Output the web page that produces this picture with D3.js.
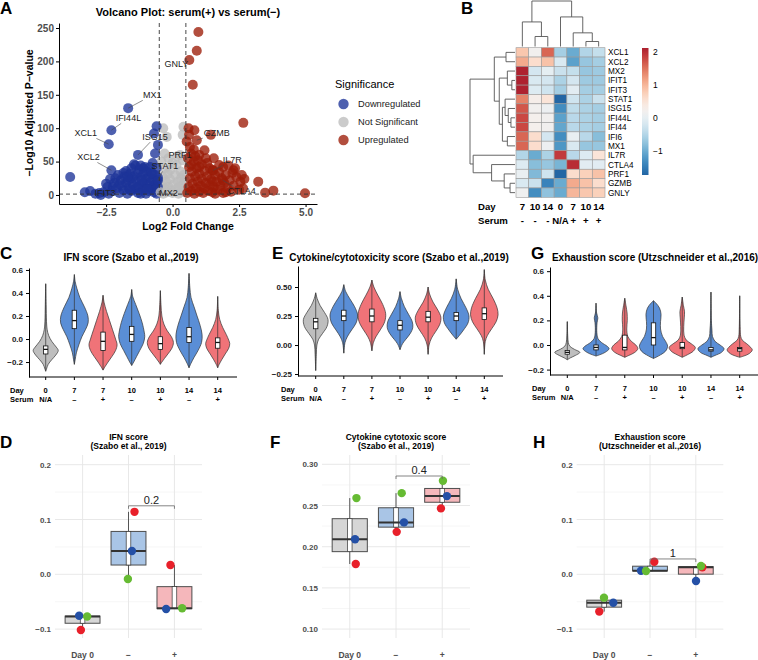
<!DOCTYPE html>
<html>
<head>
<meta charset="utf-8">
<script src="https://cdn.jsdelivr.net/npm/d3@7"></script>
<style>
  body { margin: 0; background: #fff; }
  svg { font-family: "Liberation Sans", Arial, Helvetica, sans-serif; }
</style>
</head>
<body>
<svg width="758" height="660"></svg>
<script>
// ---------- A: volcano data (log2FC, -log10 padj) ----------
const downGenes = [[-3.85,27],[-2.75,3],[-2.7,0],[-2.25,12],[-0.6,103],[-0.7,92],[-0.55,75],[-0.66,62],[-1.4,44],[-1.1,40],
  [-1.45,46],[-1.55,40],[-2.05,30],[-1.25,38],[-1.05,42],[-0.95,35],[-2.6,4],[-2.45,12],[-2.3,6],[-2.2,18],[-2.1,10],
  [-2.0,3],[-1.95,22],[-1.9,14],[-1.85,7],[-1.8,28],[-1.75,18],[-1.7,2],[-1.65,11],[-1.6,32],[-1.6,24],[-1.55,6],
  [-1.5,16],[-1.45,28],[-1.4,9],[-1.35,20],[-1.3,33],[-1.3,3],[-1.25,14],[-1.2,26],[-1.15,7],[-1.1,18],[-1.1,31],
  [-1.05,11],[-1.0,24],[-1.0,2],[-0.95,15],[-0.9,28],[-0.9,6],[-0.85,19],[-0.8,10],[-0.8,34],[-0.75,24],[-0.7,4],
  [-0.7,15],[-0.65,30],[-0.65,9],[-0.6,20],[-0.6,2],[-0.55,12],[-0.55,26],[-1.75,36],[-2.35,24],[-2.5,17],[-1.66,22],
  [-1.2,44],[-0.6,40],[-0.75,48],[-3.3,4],[-2.9,2],[-2.0,16],[-1.85,33],[-1.5,26],[-1.35,12],[-1.15,22],[-0.85,42],
  [-2.15,25],[-1.6,8],[-1.2,2],[-0.95,9],[-0.75,32],[-1.7,27],[-2.4,2]];
const nsGenes = [[-0.45,5],[-0.4,15],[-0.38,28],[-0.35,2],[-0.3,10],[-0.28,40],[-0.25,20],[-0.2,4],[-0.18,32],[-0.15,12],
  [-0.1,24],[-0.05,7],[0.0,3],[0.05,16],[0.1,30],[0.12,8],[0.15,45],[0.2,20],[0.22,2],[0.25,12],[0.3,35],[0.32,25],
  [0.35,6],[0.38,52],[0.4,15],[0.42,30],[0.45,4],[0.28,60],[-0.35,100],[-0.22,87],[0.41,102],[0.38,90],[-0.42,50],
  [-0.08,38],[0.46,22],[0.18,58],[-0.3,62],[0.0,48],[-0.15,55]];
const upGenes = [[0.97,244],[0.91,216],[0.76,165],[2.66,108],[0.82,97],[1.44,90],[1.2,67],[0.53,80],[2.29,37],[2.6,30],
  [3.22,20],[3.48,3.5],[3.79,6.5],[4.98,2.5],[1.0,60],[1.9,42],[2.1,44],[1.55,55],[0.8,68],[0.6,100],[0.62,90],
  [0.55,3],[0.6,12],[0.65,25],[0.7,6],[0.72,35],[0.75,17],[0.8,50],[0.82,2],[0.85,28],[0.88,10],[0.9,40],[0.95,20],
  [1.0,5],[1.0,32],[1.05,14],[1.1,46],[1.1,24],[1.15,3],[1.2,36],[1.2,10],[1.25,18],[1.3,28],[1.35,6],[1.4,40],
  [1.4,15],[1.45,24],[1.5,37],[1.5,4],[1.55,12],[1.6,30],[1.65,20],[1.7,8],[1.75,34],[1.8,14],[1.85,25],[1.9,3],
  [1.95,18],[2.0,30],[2.05,10],[2.15,22],[2.25,33],[2.3,14],[2.4,27],[2.5,8],[0.58,55],[0.7,62],[0.95,52],[1.3,48],
  [0.65,72],[1.75,45],[2.35,40],[2.55,20],[2.7,24],[2.2,5],[2.65,10],[0.7,45],[1.0,42],[1.6,2],[1.25,55],[2.0,4],
  [0.85,58],[1.5,20]];
const volcanoLabels = [['GNLY',0.63,202,'up'],['MX1',-1.67,130,'down'],['IFI44L',-2.3,97,'down'],['XCL1',-2.4,76,'down'],
  ['ISG15',-1.3,60,'down'],['XCL2',-2.3,37,'down'],['STAT1',-0.55,22,'down'],['PRF1',0.62,42,'up'],['GZMB',0.91,82,'up'],
  ['IL7R',1.53,37,'up'],['CTLA4',1.89,22,'up'],['IFIT3',-3.1,6,'down'],['MX2',-0.45,4,'ns']];
const volcanoXTicks = [-2.5, 0, 2.5, 5];
const volcanoYTicks = [0, 50, 100, 150, 200, 250];
const sigLevels = ['Downregulated', 'Not Significant', 'Upregulated'];

// ---------- B: heatmap data ----------
const hmGenes = ['XCL1','XCL2','MX2','IFIT1','IFIT3','STAT1','ISG15','IFI44L','IFI44','IFI6','MX1','IL7R','CTLA4','PRF1','GZMB','GNLY'];
const hmDays = ['7','10','14','0','7','10','14'];
const hmSerum = ['-','-','-','N/A','+','+','+'];
const hmValues = [
  [0.85, 0.2, 1.6, -0.6, -1.0, -0.5, -0.35],
  [1.1, 0.6, 0.9, -0.15, -1.1, -0.7, -0.6],
  [2.1, -0.2, 0.0, -0.3, -0.35, -0.7, -0.65],
  [2.1, -0.15, -0.2, -0.55, -0.2, -0.65, -0.65],
  [2.1, -0.1, -0.25, -0.6, -0.05, -0.6, -0.6],
  [1.4, 0.3, 0.5, -1.7, -0.25, -0.55, -0.3],
  [1.7, 0.2, 0.1, -1.3, -0.4, -0.55, -0.6],
  [1.8, 0.25, 0.2, -1.1, -0.45, -0.55, -0.6],
  [1.8, 0.25, 0.2, -1.05, -0.45, -0.55, -0.6],
  [1.6, 0.6, -0.2, -1.3, 0.05, -0.45, -0.8],
  [1.6, 0.6, 0.1, -1.2, -0.15, -0.7, -0.7],
  [-0.5, -1.0, -0.55, 1.9, -0.45, -0.1, 0.5],
  [-0.1, -0.8, -0.7, -0.9, 2.0, -0.05, -0.05],
  [0.05, -0.85, -0.25, -1.7, 0.6, 0.75, 0.9],
  [-0.15, -0.3, -1.4, -1.0, 1.1, 0.9, 0.6],
  [0.15, -1.3, -0.75, -1.0, 1.0, 0.85, 0.75]];
const hmRange = [-1.71, 2.12];
const colorbarTicks = [-1, 0, 1, 2];
// merge heights (0 = leaf, 1 = root); leaves are column / row indices
const colTree = {h: 1, c: [{h: 0.54, c: [0, {h: 0.22, c: [1, 2]}]},
  {h: 0.65, c: [3, {h: 0.3, c: [4, {h: 0.11, c: [5, 6]}]}]}]};
const rowTree = {h: 1, c: [
  {h: 0.46, c: [{h: 0.2, c: [0, 1]},
    {h: 0.35, c: [{h: 0.17, c: [2, {h: 0.07, c: [3, 4]}]},
      {h: 0.28, c: [{h: 0.22, c: [5, {h: 0.15, c: [6, {h: 0.09, c: [7, 8]}]}]}, {h: 0.17, c: [9, 10]}]}]}]},
  {h: 0.93, c: [11, {h: 0.52, c: [12, {h: 0.24, c: [13, {h: 0.11, c: [14, 15]}]}]}]}]};

// ---------- C/E/G: violin data, profile = [score, density] ----------
const vDays = ['0','7','7','10','10','14','14'];
const vSerum = ['N/A','–','+','–','+','–','+'];
const vGroup = ['ctrl','minus','plus','minus','plus','minus','plus'];
const ifnViolins = [
  [[0.48,0],[0.3,0.4],[0.15,0.8],[0.08,1.5],[0.03,3],[-0.02,6],[-0.07,10.5],[-0.1,12.5],[-0.14,10],[-0.18,6],[-0.22,2.5],[-0.26,0.8],[-0.28,0]],
  [[0.56,0],[0.5,0.8],[0.44,2.5],[0.36,5.5],[0.28,10],[0.2,13.5],[0.14,13.7],[0.08,11],[0.02,7.5],[-0.05,4.5],[-0.12,2],[-0.18,0.8],[-0.22,0]],
  [[0.38,0],[0.32,1],[0.24,3.5],[0.16,6.5],[0.08,9.5],[0.0,12.5],[-0.05,14],[-0.1,12.5],[-0.15,9],[-0.2,5],[-0.24,2],[-0.27,0]],
  [[0.43,0],[0.37,1],[0.3,4],[0.22,7.5],[0.14,10.5],[0.06,12.5],[0.02,13],[-0.04,11.5],[-0.1,8],[-0.15,5],[-0.2,2],[-0.23,0]],
  [[0.42,0],[0.3,0.6],[0.2,1.5],[0.13,3.5],[0.07,7],[0.02,11],[-0.03,13],[-0.08,11.5],[-0.13,7.5],[-0.17,4],[-0.2,1.5],[-0.22,0]],
  [[0.57,0],[0.45,0.8],[0.36,2],[0.28,5],[0.2,8],[0.12,11],[0.04,13],[-0.03,12.5],[-0.1,9],[-0.16,5],[-0.21,2],[-0.25,0]],
  [[0.37,0],[0.25,0.6],[0.17,2],[0.1,5],[0.04,8.5],[-0.01,11],[-0.04,12],[-0.08,11],[-0.13,7.5],[-0.18,4],[-0.22,1.5],[-0.25,0]]];
const ifnBoxes = [[-0.13,-0.09,-0.06],[0.09,0.16,0.25],[-0.1,-0.02,0.06],[-0.02,0.04,0.11],[-0.09,-0.04,0.02],[-0.03,0.02,0.1],[-0.08,-0.03,0.01]];
const cytoViolins = [
  [[0.45,0],[0.4,1.5],[0.34,4.5],[0.28,9],[0.22,12.5],[0.16,11.5],[0.1,7],[0.05,3],[0.0,1.2],[-0.08,0.6],[-0.22,0]],
  [[0.52,0],[0.46,2],[0.4,6],[0.33,11],[0.26,14],[0.19,12.5],[0.13,8],[0.07,3.5],[0.02,1.2],[-0.07,0]],
  [[0.56,0],[0.5,2],[0.43,6],[0.35,11],[0.27,14],[0.2,13],[0.13,8.5],[0.07,4],[0.02,1.5],[-0.05,0]],
  [[0.46,0],[0.4,1.5],[0.33,4.5],[0.26,9],[0.2,12.5],[0.15,13],[0.1,10.5],[0.05,6],[0.01,2.5],[-0.04,0]],
  [[0.5,0],[0.44,1.5],[0.37,5],[0.3,10],[0.24,13],[0.18,12],[0.12,8],[0.06,3.5],[0.0,1],[-0.08,0]],
  [[0.57,0],[0.48,1.5],[0.4,5],[0.32,10],[0.25,13],[0.19,12],[0.13,7.5],[0.08,3],[0.05,0]],
  [[0.65,0],[0.56,1],[0.48,4],[0.4,9],[0.32,13],[0.26,14],[0.2,12],[0.14,7.5],[0.08,3],[0.03,1],[-0.08,0]]];
const cytoBoxes = [[0.14,0.2,0.23],[0.21,0.25,0.3],[0.2,0.25,0.31],[0.13,0.17,0.21],[0.2,0.24,0.29],[0.21,0.25,0.28],[0.22,0.27,0.32]];
const exhViolins = [
  [[0.19,0],[0.08,0.4],[0.02,1],[-0.01,2.5],[-0.035,7],[-0.06,12.5],[-0.085,8],[-0.105,3],[-0.12,0]],
  [[0.34,0],[0.26,0.6],[0.22,1.8],[0.18,1],[0.1,0.8],[0.05,2],[0.02,5.5],[-0.01,11],[-0.03,13],[-0.06,9],[-0.08,3.5],[-0.09,0]],
  [[0.38,0],[0.32,1.2],[0.26,2.3],[0.2,2.5],[0.13,2],[0.07,3],[0.03,6.5],[0.0,11],[-0.03,13],[-0.06,10],[-0.085,4],[-0.1,0]],
  [[0.36,0],[0.34,2.5],[0.3,6],[0.25,7.5],[0.19,7],[0.13,7],[0.07,9],[0.03,12],[-0.01,14],[-0.05,12],[-0.08,7],[-0.1,2.5],[-0.11,0]],
  [[0.39,0],[0.32,1.2],[0.27,2.3],[0.22,2],[0.15,1.5],[0.08,1.8],[0.04,4],[0.01,9],[-0.02,13],[-0.05,11],[-0.08,5],[-0.1,0]],
  [[0.43,0],[0.2,0.4],[0.12,1],[0.07,1.5],[0.03,4],[0.0,9],[-0.03,13],[-0.06,10.5],[-0.085,4],[-0.1,0]],
  [[0.4,0],[0.15,0.4],[0.07,1],[0.04,2.5],[0.01,7],[-0.02,11],[-0.04,12.5],[-0.07,9.5],[-0.09,4],[-0.1,0]]];
const exhBoxes = [[-0.075,-0.06,-0.045],[-0.04,-0.02,0.0],[-0.04,-0.02,0.08],[0.0,0.06,0.18],[-0.03,-0.02,0.02],[-0.05,-0.04,-0.02],[-0.05,-0.03,-0.02]];

// ---------- D/F/H: per-donor mean scores [red, green, blue] ----------
const boxCats = ['Day 0', '−', '+'];
const donorOrder = ['red', 'green', 'blue'];
const ifnDonor = [[-0.1016, -0.077, -0.0755], [0.114, -0.0086, 0.0425], [0.017, -0.062, -0.0633]];
const cytoDonor = [[0.179, 0.259, 0.209], [0.218, 0.265, 0.2295], [0.2465, 0.28, 0.2614]];
const exhDonor = [[-0.068, -0.0426, -0.0518], [0.023, 0.006, 0.0066], [0.0128, 0.0151, -0.0122]];
const ifnJitter = [[-1.7, 4.6, -3.4], [6, -0.6, 3.4], [-4, 7.7, -8.3]];
const cytoJitter = [[6, 6.7, 5.3], [0.7, 5.7, 8], [-1.3, 0.7, 4.7]];
const exhJitter = [[-4.9, -0.2, 9.1], [4.3, -4, -9], [6.5, 5.2, 0.2]];
const pLabels = ['0.2', '0.4', '1'];
const bracketLevels = [0.125, 0.2858, 0.028];

// ---------- drawing ----------
const svg = d3.select('svg');
const sigColor = {down: '#1c3399', ns: '#bdbdbd', up: '#9c1c08'};
const groupColor = {ctrl: '#bebebe', minus: '#5a8ed6', plus: '#f07378'};
const donorColor = {red: '#e8202a', green: '#66bb33', blue: '#2450a6'};
const catFill = ['#d6d6d6', '#a9c5e6', '#f5b7bb'];

function letter(t, x, y) {
  svg.append('text').attr('x', x).attr('y', y).attr('font-size', 17)
    .attr('font-weight', 'bold').text(t);
}

function styleAxis(a, size, col) {
  a.attr('font-family', null).attr('font-size', null);
  a.selectAll('text').attr('font-size', size).attr('font-weight', 'bold').attr('fill', col);
  a.selectAll('line,path').attr('stroke', '#000');
}

function drawVolcano() {
  const g = svg.append('g');
  const x = d3.scaleLinear().domain([-4.27, 5.43]).range([59, 317]);
  const y = d3.scaleLinear().domain([-13.5, 257.5]).range([204, 23]);

  g.append('text').attr('x', 188).attr('y', 16).attr('text-anchor', 'middle')
    .attr('font-size', 11).attr('font-weight', 'bold').text('Volcano Plot: serum(+) vs serum(−)');

  [[nsGenes, 'ns'], [downGenes, 'down'], [upGenes, 'up']].forEach(([data, k]) => {
    g.append('g').selectAll('circle').data(data).join('circle')
      .attr('cx', d => x(d[0])).attr('cy', d => y(d[1])).attr('r', 5)
      .attr('fill', sigColor[k]).attr('fill-opacity', 0.78);
  });
  g.append('g').selectAll('circle').data(volcanoLabels).join('circle')
    .attr('cx', d => x(d[1])).attr('cy', d => y(d[2])).attr('r', 5)
    .attr('fill', d => sigColor[d[3]]).attr('fill-opacity', 0.78);

  const dash = {stroke: '#333', 'stroke-width': 0.9, 'stroke-dasharray': '4,3'};
  [-0.5, 0.5].forEach(v => {
    const l = g.append('line').attr('x1', x(v)).attr('x2', x(v)).attr('y1', 23).attr('y2', 204);
    Object.entries(dash).forEach(([k, val]) => l.attr(k, val));
  });
  const h = g.append('line').attr('x1', 59).attr('x2', 317).attr('y1', y(1.3)).attr('y2', y(1.3));
  Object.entries(dash).forEach(([k, val]) => h.attr(k, val));

  // gene labels (repel-style nudges)
  const nudge = {GNLY: [-13, 4], MX1: [24, -13], IFI44L: [17, -12], XCL1: [-23, -11], ISG15: [17, -18],
    XCL2: [-23, -13], STAT1: [7, -14], PRF1: [-9, -12], GZMB: [20, -7], IL7R: [19, -10],
    CTLA4: [19, 11], IFIT3: [15, 2], MX2: [8, 0]};
  volcanoLabels.forEach(([gene, lfc, p]) => {
    const px = x(lfc), py = y(p);
    const [dx, dy] = nudge[gene];
    const t = g.append('text').attr('x', px + dx).attr('y', py + dy + 3.2)
      .attr('text-anchor', 'middle').attr('font-size', 9).attr('fill', '#222').text(gene);
    const b = t.node().getBBox();
    const cx = b.x + b.width / 2, cy = b.y + b.height / 2;
    const vx = px - cx, vy = py - cy;
    const s = Math.min(Math.abs((b.width / 2 + 1) / vx), Math.abs((b.height / 2) / vy));
    if (s < 1) {
      const len = Math.hypot(vx, vy) * (1 - s);
      if (len > 5) {
        g.append('line').attr('x1', cx + vx * s).attr('y1', cy + vy * s)
          .attr('x2', px).attr('y2', py).attr('stroke', '#444').attr('stroke-width', 0.6);
      }
    }
  });

  const ya = g.append('g').attr('transform', 'translate(59,0)')
    .call(d3.axisLeft(y).tickValues(volcanoYTicks).tickSize(3).tickSizeOuter(0).tickPadding(2));
  const xa = g.append('g').attr('transform', 'translate(0,204)')
    .call(d3.axisBottom(x).tickValues(volcanoXTicks).tickFormat(d3.format('.1f'))
      .tickSize(3).tickSizeOuter(0).tickPadding(2));
  styleAxis(ya, 10, '#4d4d4d');
  styleAxis(xa, 10, '#4d4d4d');

  g.append('text').attr('x', 188).attr('y', 230).attr('text-anchor', 'middle')
    .attr('font-size', 10.5).attr('font-weight', 'bold').text('Log2 Fold Change');
  g.append('text').attr('transform', 'translate(33,113) rotate(-90)').attr('text-anchor', 'middle')
    .attr('font-size', 10.5).attr('font-weight', 'bold').text('−Log10 Adjusted P−value');

  const lg = svg.append('g');
  lg.append('text').attr('x', 335).attr('y', 88).attr('font-size', 11).text('Significance');
  const keys = ['down', 'ns', 'up'];
  sigLevels.forEach((s, i) => {
    lg.append('circle').attr('cx', 343.5).attr('cy', 104 + 18 * i).attr('r', 5.2)
      .attr('fill', sigColor[keys[i]]).attr('fill-opacity', 0.78);
    lg.append('text').attr('x', 358).attr('y', 107.3 + 18 * i).attr('font-size', 9.3)
      .attr('fill', '#222').text(s);
  });
}

function dendro(node, leafPos, draw) {
  if (typeof node === 'number') return {p: leafPos(node), h: 0};
  const kids = node.c.map(k => dendro(k, leafPos, draw));
  draw(kids, node.h);
  return {p: (kids[0].p + kids[1].p) / 2, h: node.h};
}

function drawHeatmap() {
  const g = svg.append('g');
  const cx = d3.scaleBand().domain(d3.range(hmDays.length)).range([516, 605]);
  const ry = d3.scaleBand().domain(d3.range(hmGenes.length)).range([47.7, 197.3]);
  const tt = d3.scaleLinear().domain(hmRange).range([0.9, 0.1]);
  const color = v => d3.interpolateRdBu(tt(v));

  hmValues.forEach((row, i) => {
    g.append('g').selectAll('rect').data(row).join('rect')
      .attr('x', (d, j) => cx(j)).attr('y', ry(i))
      .attr('width', cx.bandwidth()).attr('height', ry.bandwidth())
      .attr('fill', d => color(d)).attr('stroke', '#9a9a9a').attr('stroke-width', 0.6);
  });
  g.append('g').selectAll('text').data(hmGenes).join('text')
    .attr('x', 608).attr('y', (d, i) => ry(i) + ry.bandwidth() / 2 + 3)
    .attr('font-size', 8.2).text(d => d);

  // annotation rows
  [['Day', hmDays, 210.2], ['Serum', hmSerum, 223.5]].forEach(([name, vals, yy]) => {
    g.append('text').attr('x', 478).attr('y', yy).attr('font-size', 9.6).attr('font-weight', 'bold').text(name);
    g.append('g').selectAll('text').data(vals).join('text')
      .attr('x', (d, j) => cx(j) + cx.bandwidth() / 2).attr('y', yy).attr('text-anchor', 'middle')
      .attr('font-size', 9.6).attr('font-weight', 'bold').text(d => d);
  });

  // dendrograms
  const line = {stroke: '#555', 'stroke-width': 0.9, fill: 'none'};
  const ch = h => 46.5 - h * 45.5;
  dendro(colTree, j => cx(j) + cx.bandwidth() / 2, (kids, h) => {
    const p = g.append('path').attr('d',
      `M${kids[0].p},${ch(kids[0].h)}V${ch(h)}H${kids[1].p}V${ch(kids[1].h)}`);
    Object.entries(line).forEach(([k, v]) => p.attr(k, v));
  });
  const rh = h => 515 - h * 45;
  dendro(rowTree, i => ry(i) + ry.bandwidth() / 2, (kids, h) => {
    const p = g.append('path').attr('d',
      `M${rh(kids[0].h)},${kids[0].p}H${rh(h)}V${kids[1].p}H${rh(kids[1].h)}`);
    Object.entries(line).forEach(([k, v]) => p.attr(k, v));
  });

  // colour bar
  const cb = d3.scaleLinear().domain(hmRange).range([175, 48]);
  const grad = svg.append('defs').append('linearGradient').attr('id', 'cbar')
    .attr('x1', 0).attr('y1', 1).attr('x2', 0).attr('y2', 0);
  d3.range(0, 1.0001, 0.05).forEach(o => {
    grad.append('stop').attr('offset', o)
      .attr('stop-color', color(hmRange[0] + o * (hmRange[1] - hmRange[0])));
  });
  g.append('rect').attr('x', 642).attr('y', 48).attr('width', 6.5).attr('height', 127).attr('fill', 'url(#cbar)');
  g.append('g').selectAll('text').data(colorbarTicks).join('text')
    .attr('x', 653).attr('y', d => cb(d) + 3).attr('font-size', 8.5)
    .text(d => d3.format('d')(d));
}

function drawViolinPanel(cfg) {
  const g = svg.append('g');
  const y = d3.scaleLinear().domain(cfg.yDomain).range([cfg.bottom, cfg.top]);
  const x = d3.scalePoint().domain(d3.range(vDays.length)).range(cfg.centers);
  const w = d3.scaleLinear().domain([0, 14]).range([0, 0.49 * x.step()]);
  const area = d3.area().curve(d3.curveCatmullRom).y(d => y(d[0]));

  cfg.profiles.forEach((prof, i) => {
    const pts = prof.slice().sort((a, b) => a[0] - b[0]);
    const c = x(i);
    g.append('path').datum(pts)
      .attr('d', area.x0(d => c - w(d[1])).x1(d => c + w(d[1])))
      .attr('fill', groupColor[vGroup[i]]).attr('stroke', '#333').attr('stroke-width', 0.7);
    g.append('line').attr('x1', c).attr('x2', c)
      .attr('y1', y(pts[0][0])).attr('y2', y(pts[pts.length - 1][0]))
      .attr('stroke', '#333').attr('stroke-width', 0.7);
    const [q1, med, q3] = cfg.boxes[i];
    g.append('rect').attr('x', c - 2.2).attr('width', 4.4).attr('y', y(q3)).attr('height', y(q1) - y(q3))
      .attr('fill', '#fff').attr('stroke', '#111').attr('stroke-width', 0.8);
    g.append('line').attr('x1', c - 2.2).attr('x2', c + 2.2).attr('y1', y(med)).attr('y2', y(med))
      .attr('stroke', '#111').attr('stroke-width', 1.3);
  });

  const ya = g.append('g').attr('transform', `translate(${cfg.axisX},0)`)
    .call(d3.axisLeft(y).tickValues(cfg.ticks).tickFormat(d3.format(cfg.fmt)).tickSize(3).tickSizeOuter(0).tickPadding(3));
  styleAxis(ya, 8, '#1a1a1a');
  g.append('line').attr('x1', cfg.axisX).attr('x2', cfg.axisRight).attr('y1', cfg.bottom).attr('y2', cfg.bottom)
    .attr('stroke', '#000');
  g.append('g').selectAll('line').data(vDays).join('line')
    .attr('x1', (d, i) => x(i)).attr('x2', (d, i) => x(i))
    .attr('y1', cfg.bottom).attr('y2', cfg.bottom + 3).attr('stroke', '#000');
  [['Day', vDays, 16], ['Serum', vSerum, 25]].forEach(([name, vals, dy]) => {
    g.append('text').attr('x', cfg.headX).attr('y', cfg.bottom + dy).attr('font-size', 7.5)
      .attr('font-weight', 'bold').text(name);
    g.append('g').selectAll('text').data(vals).join('text')
      .attr('x', (d, i) => x(i)).attr('y', cfg.bottom + dy).attr('text-anchor', 'middle')
      .attr('font-size', 7.5).attr('font-weight', 'bold').text(d => d);
  });
  g.append('text').attr('x', cfg.titleX).attr('y', 260.5).attr('text-anchor', 'middle')
    .attr('font-size', 10).attr('font-weight', 'bold').text(cfg.title);
  letter(cfg.letter, cfg.letterX, 259);
}

function drawBoxPanel(cfg) {
  const g = svg.append('g');
  const top = 455, bottom = 638;
  const y = d3.scaleLinear().domain(cfg.yDomain).range([bottom, top]);
  const x = d3.scalePoint().domain(boxCats).range([cfg.left, cfg.right]).padding(0.6);
  const minor = d3.pairs(cfg.ticks).map(([a, b]) => (a + b) / 2);

  g.append('g').selectAll('line').data(minor).join('line')
    .attr('x1', cfg.left).attr('x2', cfg.right).attr('y1', d => y(d)).attr('y2', d => y(d))
    .attr('stroke', '#f2f2f2').attr('stroke-width', 0.7);
  g.append('g').selectAll('line').data(cfg.ticks).join('line')
    .attr('x1', cfg.left).attr('x2', cfg.right).attr('y1', d => y(d)).attr('y2', d => y(d))
    .attr('stroke', '#e5e5e5').attr('stroke-width', 0.9);
  g.append('g').selectAll('line').data(boxCats).join('line')
    .attr('x1', d => x(d)).attr('x2', d => x(d)).attr('y1', top).attr('y2', bottom)
    .attr('stroke', '#e5e5e5').attr('stroke-width', 0.9);

  g.append('g').selectAll('text').data(cfg.ticks).join('text')
    .attr('x', cfg.left - 4).attr('y', d => y(d) + 3).attr('text-anchor', 'end')
    .attr('font-size', 8).attr('font-weight', 'bold').attr('fill', '#4d4d4d')
    .text(d => d3.format(cfg.fmt)(d));
  g.append('g').selectAll('text').data(boxCats).join('text')
    .attr('x', d => x(d)).attr('y', 658).attr('text-anchor', 'middle')
    .attr('font-size', 8.5).attr('font-weight', 'bold').attr('fill', '#4d4d4d').text(d => d);

  const bw = 0.76 * x.step();
  cfg.scores.forEach((vals, k) => {
    const c = x(boxCats[k]);
    const s = vals.slice().sort(d3.ascending);
    const q1 = d3.quantile(s, 0.25), med = d3.quantile(s, 0.5), q3 = d3.quantile(s, 0.75);
    g.append('line').attr('x1', c).attr('x2', c).attr('y1', y(s[0])).attr('y2', y(s[s.length - 1]))
      .attr('stroke', '#555').attr('stroke-width', 1);
    g.append('rect').attr('x', c - bw / 2).attr('width', bw).attr('y', y(q3)).attr('height', y(q1) - y(q3))
      .attr('fill', catFill[k]).attr('stroke', '#4d4d4d').attr('stroke-width', 1);
    g.append('rect').attr('x', c - 2.3).attr('width', 4.6).attr('y', y(q3)).attr('height', y(q1) - y(q3))
      .attr('fill', '#fff').attr('stroke', '#333').attr('stroke-width', 0.7);
    g.append('line').attr('x1', c - bw / 2).attr('x2', c + bw / 2).attr('y1', y(med)).attr('y2', y(med))
      .attr('stroke', '#333').attr('stroke-width', 2);
  });
  // points: red first, then blue, then green on top
  [0, 2, 1].forEach(di => {
    g.append('g').selectAll('circle').data(cfg.scores).join('circle')
      .attr('cx', (d, k) => x(boxCats[k]) + cfg.jitter[k][di]).attr('cy', d => y(d[di]))
      .attr('r', 4.2).attr('fill', donorColor[donorOrder[di]]);
  });

  const x1 = x(boxCats[1]), x2 = x(boxCats[2]), yb = y(cfg.bracket);
  g.append('path').attr('d', `M${x1},${yb + 3}V${yb}H${x2}V${yb + 3}`)
    .attr('fill', 'none').attr('stroke', '#666').attr('stroke-width', 0.8);
  g.append('text').attr('x', (x1 + x2) / 2).attr('y', yb - 2).attr('text-anchor', 'middle')
    .attr('font-size', 11).attr('fill', '#222').text(cfg.pLabel);

  const mid = (cfg.left + cfg.right) / 2;
  cfg.title.forEach((t, i) => {
    g.append('text').attr('x', mid).attr('y', 440 + 9.3 * i).attr('text-anchor', 'middle')
      .attr('font-size', 8.5).attr('font-weight', 'bold').text(t);
  });
  letter(cfg.letter, cfg.letterX, 448);
}

letter('A', 0, 14);
letter('B', 461, 14);
drawVolcano();
drawHeatmap();

drawViolinPanel({profiles: ifnViolins, boxes: ifnBoxes, yDomain: [-0.33, 0.617], bottom: 377, top: 268,
  centers: [45.7, 217.7], axisX: 29, axisRight: 237, ticks: [-0.2, 0, 0.2, 0.4, 0.6], fmt: '.1f',
  headX: 10, title: 'IFN score (Szabo et al.,2019)', titleX: 131, letter: 'C', letterX: 0});
drawViolinPanel({profiles: cytoViolins, boxes: cytoBoxes, yDomain: [-0.267, 0.681], bottom: 376, top: 266,
  centers: [315.7, 484.3], axisX: 298, axisRight: 503, ticks: [-0.25, 0, 0.25, 0.5], fmt: '.2f',
  headX: 281, title: 'Cytokine/cytotoxicity score (Szabo et al.,2019)', titleX: 399, letter: 'E', letterX: 272});
drawViolinPanel({profiles: exhViolins, boxes: exhBoxes, yDomain: [-0.244, 0.634], bottom: 375, top: 267,
  centers: [567.3, 739.7], axisX: 550, axisRight: 758, ticks: [-0.2, 0, 0.2, 0.4, 0.6], fmt: '.1f',
  headX: 532, title: 'Exhaustion score (Utzschneider et al.,2016)', titleX: 655, letter: 'G', letterX: 531});

drawBoxPanel({scores: ifnDonor, jitter: ifnJitter, yDomain: [-0.1162, 0.2177], left: 55, right: 202,
  ticks: [-0.1, 0, 0.1, 0.2], fmt: '.1f', bracket: bracketLevels[0], pLabel: pLabels[0],
  title: ['IFN score', '(Szabo et al., 2019)'], letter: 'D', letterX: 0});
drawBoxPanel({scores: cytoDonor, jitter: cytoJitter, yDomain: [0.0892, 0.3113], left: 322, right: 470,
  ticks: [0.1, 0.15, 0.2, 0.25, 0.3], fmt: '.2f', bracket: bracketLevels[1], pLabel: pLabels[1],
  title: ['Cytokine cytotoxic score', '(Szabo et al., 2019)'], letter: 'F', letterX: 270});
drawBoxPanel({scores: exhDonor, jitter: exhJitter, yDomain: [-0.1162, 0.2177], left: 576.7, right: 723.3,
  ticks: [-0.1, 0, 0.1, 0.2], fmt: '.1f', bracket: bracketLevels[2], pLabel: pLabels[2],
  title: ['Exhaustion score', '(Utzschneider et al.,2016)'], letter: 'H', letterX: 533});
</script>
</body>
</html>
